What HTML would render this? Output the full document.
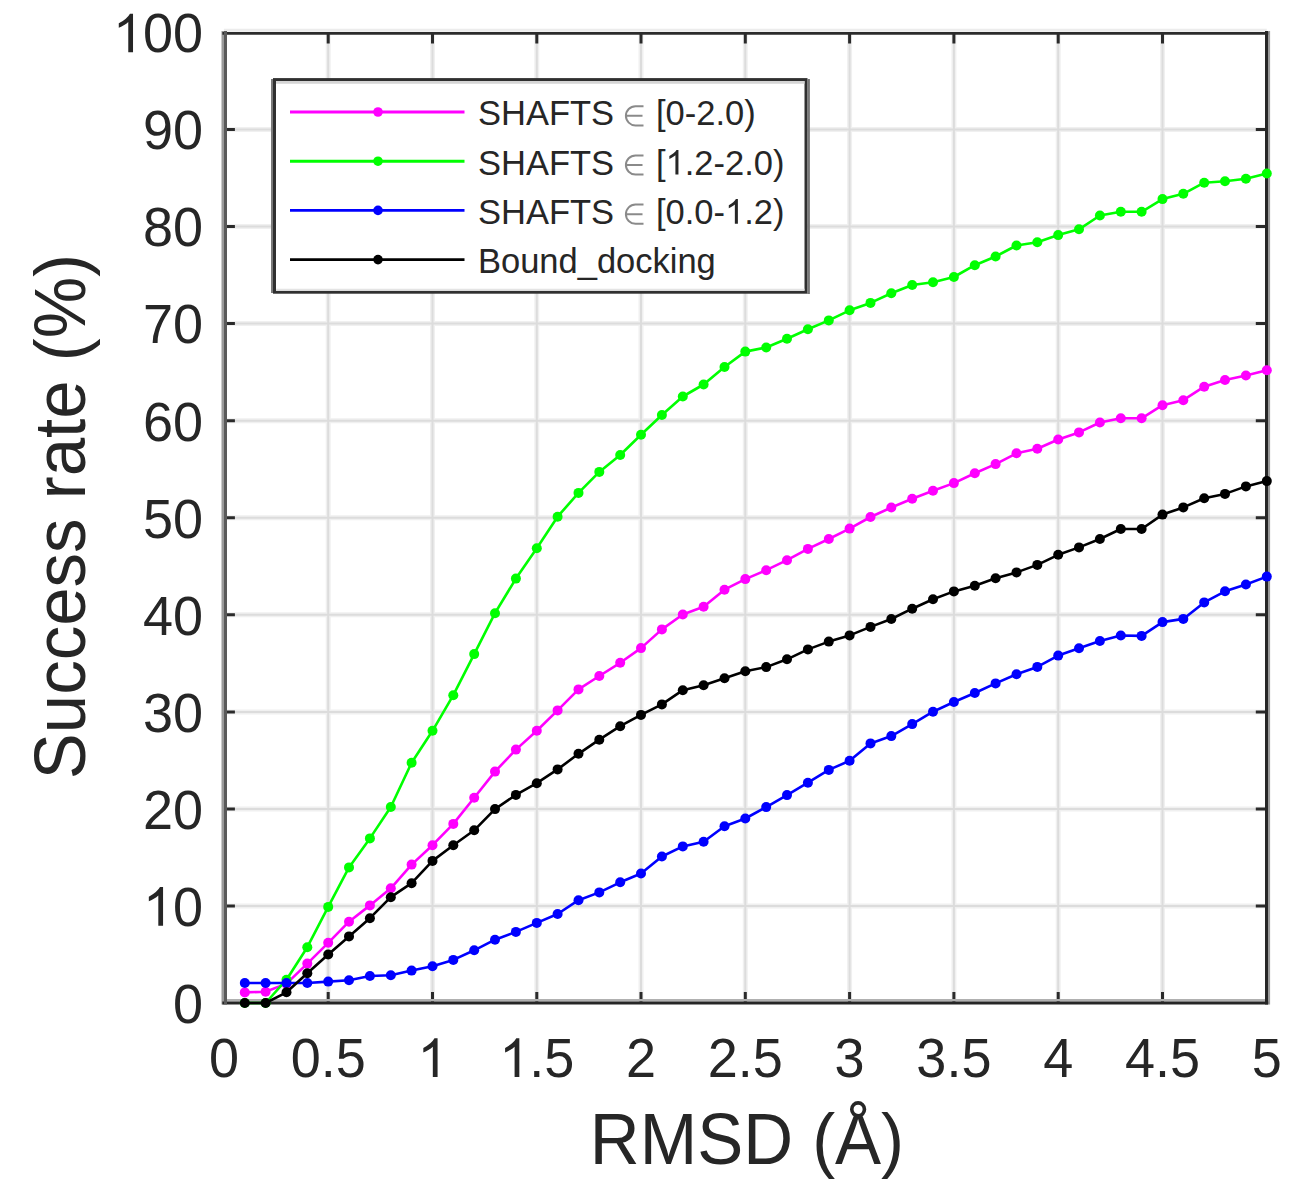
<!DOCTYPE html><html><head><meta charset="utf-8"><style>html,body{margin:0;padding:0;background:#fff;width:1306px;height:1201px;overflow:hidden}svg{display:block}text{font-family:"Liberation Sans",sans-serif;fill:#262626;font-kerning:none}</style></head><body>
<svg width="1306" height="1201" viewBox="0 0 1306 1201">
<rect x="0" y="0" width="1306" height="1201" fill="#fff"/>
<path d="M328.2 32.5V1003.0M432.5 32.5V1003.0M536.8 32.5V1003.0M641.0 32.5V1003.0M745.3 32.5V1003.0M849.6 32.5V1003.0M953.9 32.5V1003.0M1058.2 32.5V1003.0M1162.5 32.5V1003.0M223.9 906.0H1266.8M223.9 808.9H1266.8M223.9 711.9H1266.8M223.9 614.8H1266.8M223.9 517.8H1266.8M223.9 420.7H1266.8M223.9 323.6H1266.8M223.9 226.6H1266.8M223.9 129.5H1266.8" stroke="#f0f0f0" stroke-width="5" fill="none"/>
<path d="M328.2 32.5V1003.0M432.5 32.5V1003.0M536.8 32.5V1003.0M641.0 32.5V1003.0M745.3 32.5V1003.0M849.6 32.5V1003.0M953.9 32.5V1003.0M1058.2 32.5V1003.0M1162.5 32.5V1003.0M223.9 906.0H1266.8M223.9 808.9H1266.8M223.9 711.9H1266.8M223.9 614.8H1266.8M223.9 517.8H1266.8M223.9 420.7H1266.8M223.9 323.6H1266.8M223.9 226.6H1266.8M223.9 129.5H1266.8" stroke="#dcdcdc" stroke-width="2" fill="none"/>
<path d="M328.2 1003.0v-11M328.2 32.5v11M432.5 1003.0v-11M432.5 32.5v11M536.8 1003.0v-11M536.8 32.5v11M641.0 1003.0v-11M641.0 32.5v11M745.3 1003.0v-11M745.3 32.5v11M849.6 1003.0v-11M849.6 32.5v11M953.9 1003.0v-11M953.9 32.5v11M1058.2 1003.0v-11M1058.2 32.5v11M1162.5 1003.0v-11M1162.5 32.5v11M223.9 906.0h11M1266.8 906.0h-11M223.9 808.9h11M1266.8 808.9h-11M223.9 711.9h11M1266.8 711.9h-11M223.9 614.8h11M1266.8 614.8h-11M223.9 517.8h11M1266.8 517.8h-11M223.9 420.7h11M1266.8 420.7h-11M223.9 323.6h11M1266.8 323.6h-11M223.9 226.6h11M1266.8 226.6h-11M223.9 129.5h11M1266.8 129.5h-11" stroke="#2a2a2a" stroke-width="3" fill="none"/>
<path d="M223.9 30.3H1266.8" stroke="#ececec" stroke-width="3"/>
<path d="M223.9 1000.3H1266.8" stroke="#b0b0b0" stroke-width="2.6"/>
<path d="M222.8 31.0V1004.5" stroke="#9a9a9a" stroke-width="2.6"/>
<path d="M1269 31.0V1004.5" stroke="#9a9a9a" stroke-width="2.2"/>
<path d="M222.4 33.4H1268.2" stroke="#2b2b2b" stroke-width="2.8"/>
<path d="M222.4 1003.1H1268.2" stroke="#262626" stroke-width="3"/>
<path d="M225.5 31.0V1004.5" stroke="#5a5a5a" stroke-width="3"/>
<path d="M1266.5 31.0V1004.5" stroke="#262626" stroke-width="3"/>
<polyline points="244.8,992.4 265.6,991.7 286.5,983.6 307.3,963.6 328.2,942.8 349.0,921.7 369.9,905.4 390.8,888.3 411.6,864.6 432.5,845.2 453.3,823.9 474.2,797.8 495.0,771.6 515.9,749.6 536.8,730.7 557.6,710.4 578.5,689.4 599.3,676.0 620.2,662.8 641.0,648.1 661.9,629.4 682.8,614.5 703.6,606.7 724.5,589.7 745.3,579.1 766.2,570.2 787.0,560.2 807.9,548.9 828.8,539.0 849.6,528.6 870.5,517.0 891.3,507.5 912.2,498.8 933.0,490.8 953.9,483.1 974.8,473.3 995.6,464.1 1016.5,453.3 1037.3,448.7 1058.2,439.5 1079.0,432.4 1099.9,422.5 1120.8,418.3 1141.6,418.3 1162.5,405.2 1183.3,400.2 1204.2,386.7 1225.0,380.0 1245.9,375.5 1266.8,370.2" fill="none" stroke="#ff00ff" stroke-width="2.6" stroke-linejoin="round"/>
<g fill="#ff00ff"><circle cx="244.8" cy="992.4" r="5.0"/><circle cx="265.6" cy="991.7" r="5.0"/><circle cx="286.5" cy="983.6" r="5.0"/><circle cx="307.3" cy="963.6" r="5.0"/><circle cx="328.2" cy="942.8" r="5.0"/><circle cx="349.0" cy="921.7" r="5.0"/><circle cx="369.9" cy="905.4" r="5.0"/><circle cx="390.8" cy="888.3" r="5.0"/><circle cx="411.6" cy="864.6" r="5.0"/><circle cx="432.5" cy="845.2" r="5.0"/><circle cx="453.3" cy="823.9" r="5.0"/><circle cx="474.2" cy="797.8" r="5.0"/><circle cx="495.0" cy="771.6" r="5.0"/><circle cx="515.9" cy="749.6" r="5.0"/><circle cx="536.8" cy="730.7" r="5.0"/><circle cx="557.6" cy="710.4" r="5.0"/><circle cx="578.5" cy="689.4" r="5.0"/><circle cx="599.3" cy="676.0" r="5.0"/><circle cx="620.2" cy="662.8" r="5.0"/><circle cx="641.0" cy="648.1" r="5.0"/><circle cx="661.9" cy="629.4" r="5.0"/><circle cx="682.8" cy="614.5" r="5.0"/><circle cx="703.6" cy="606.7" r="5.0"/><circle cx="724.5" cy="589.7" r="5.0"/><circle cx="745.3" cy="579.1" r="5.0"/><circle cx="766.2" cy="570.2" r="5.0"/><circle cx="787.0" cy="560.2" r="5.0"/><circle cx="807.9" cy="548.9" r="5.0"/><circle cx="828.8" cy="539.0" r="5.0"/><circle cx="849.6" cy="528.6" r="5.0"/><circle cx="870.5" cy="517.0" r="5.0"/><circle cx="891.3" cy="507.5" r="5.0"/><circle cx="912.2" cy="498.8" r="5.0"/><circle cx="933.0" cy="490.8" r="5.0"/><circle cx="953.9" cy="483.1" r="5.0"/><circle cx="974.8" cy="473.3" r="5.0"/><circle cx="995.6" cy="464.1" r="5.0"/><circle cx="1016.5" cy="453.3" r="5.0"/><circle cx="1037.3" cy="448.7" r="5.0"/><circle cx="1058.2" cy="439.5" r="5.0"/><circle cx="1079.0" cy="432.4" r="5.0"/><circle cx="1099.9" cy="422.5" r="5.0"/><circle cx="1120.8" cy="418.3" r="5.0"/><circle cx="1141.6" cy="418.3" r="5.0"/><circle cx="1162.5" cy="405.2" r="5.0"/><circle cx="1183.3" cy="400.2" r="5.0"/><circle cx="1204.2" cy="386.7" r="5.0"/><circle cx="1225.0" cy="380.0" r="5.0"/><circle cx="1245.9" cy="375.5" r="5.0"/><circle cx="1266.8" cy="370.2" r="5.0"/></g>
<polyline points="244.8,1003.0 265.6,1003.0 286.5,979.7 307.3,947.2 328.2,906.9 349.0,867.4 369.9,838.4 390.8,807.0 411.6,762.7 432.5,730.8 453.3,695.2 474.2,654.1 495.0,613.2 515.9,578.6 536.8,548.3 557.6,516.7 578.5,492.9 599.3,471.9 620.2,455.0 641.0,434.8 661.9,415.0 682.8,396.5 703.6,384.5 724.5,367.0 745.3,351.6 766.2,347.5 787.0,338.8 807.9,329.2 828.8,320.4 849.6,310.3 870.5,302.9 891.3,293.3 912.2,285.0 933.0,282.3 953.9,277.0 974.8,265.2 995.6,256.5 1016.5,245.5 1037.3,242.3 1058.2,235.1 1079.0,229.3 1099.9,215.5 1120.8,211.8 1141.6,211.8 1162.5,199.1 1183.3,193.8 1204.2,182.7 1225.0,181.3 1245.9,178.7 1266.8,173.5" fill="none" stroke="#00ff00" stroke-width="2.6" stroke-linejoin="round"/>
<g fill="#00ff00"><circle cx="244.8" cy="1003.0" r="5.0"/><circle cx="265.6" cy="1003.0" r="5.0"/><circle cx="286.5" cy="979.7" r="5.0"/><circle cx="307.3" cy="947.2" r="5.0"/><circle cx="328.2" cy="906.9" r="5.0"/><circle cx="349.0" cy="867.4" r="5.0"/><circle cx="369.9" cy="838.4" r="5.0"/><circle cx="390.8" cy="807.0" r="5.0"/><circle cx="411.6" cy="762.7" r="5.0"/><circle cx="432.5" cy="730.8" r="5.0"/><circle cx="453.3" cy="695.2" r="5.0"/><circle cx="474.2" cy="654.1" r="5.0"/><circle cx="495.0" cy="613.2" r="5.0"/><circle cx="515.9" cy="578.6" r="5.0"/><circle cx="536.8" cy="548.3" r="5.0"/><circle cx="557.6" cy="516.7" r="5.0"/><circle cx="578.5" cy="492.9" r="5.0"/><circle cx="599.3" cy="471.9" r="5.0"/><circle cx="620.2" cy="455.0" r="5.0"/><circle cx="641.0" cy="434.8" r="5.0"/><circle cx="661.9" cy="415.0" r="5.0"/><circle cx="682.8" cy="396.5" r="5.0"/><circle cx="703.6" cy="384.5" r="5.0"/><circle cx="724.5" cy="367.0" r="5.0"/><circle cx="745.3" cy="351.6" r="5.0"/><circle cx="766.2" cy="347.5" r="5.0"/><circle cx="787.0" cy="338.8" r="5.0"/><circle cx="807.9" cy="329.2" r="5.0"/><circle cx="828.8" cy="320.4" r="5.0"/><circle cx="849.6" cy="310.3" r="5.0"/><circle cx="870.5" cy="302.9" r="5.0"/><circle cx="891.3" cy="293.3" r="5.0"/><circle cx="912.2" cy="285.0" r="5.0"/><circle cx="933.0" cy="282.3" r="5.0"/><circle cx="953.9" cy="277.0" r="5.0"/><circle cx="974.8" cy="265.2" r="5.0"/><circle cx="995.6" cy="256.5" r="5.0"/><circle cx="1016.5" cy="245.5" r="5.0"/><circle cx="1037.3" cy="242.3" r="5.0"/><circle cx="1058.2" cy="235.1" r="5.0"/><circle cx="1079.0" cy="229.3" r="5.0"/><circle cx="1099.9" cy="215.5" r="5.0"/><circle cx="1120.8" cy="211.8" r="5.0"/><circle cx="1141.6" cy="211.8" r="5.0"/><circle cx="1162.5" cy="199.1" r="5.0"/><circle cx="1183.3" cy="193.8" r="5.0"/><circle cx="1204.2" cy="182.7" r="5.0"/><circle cx="1225.0" cy="181.3" r="5.0"/><circle cx="1245.9" cy="178.7" r="5.0"/><circle cx="1266.8" cy="173.5" r="5.0"/></g>
<polyline points="244.8,983.0 265.6,983.0 286.5,983.0 307.3,983.0 328.2,981.6 349.0,980.2 369.9,976.0 390.8,975.3 411.6,970.6 432.5,966.2 453.3,959.9 474.2,950.3 495.0,939.7 515.9,931.9 536.8,922.9 557.6,914.0 578.5,900.2 599.3,892.4 620.2,882.3 641.0,873.5 661.9,856.5 682.8,846.4 703.6,841.8 724.5,826.2 745.3,818.5 766.2,807.1 787.0,795.1 807.9,782.7 828.8,769.9 849.6,760.8 870.5,743.4 891.3,736.1 912.2,724.1 933.0,711.7 953.9,702.0 974.8,693.0 995.6,683.4 1016.5,674.2 1037.3,666.9 1058.2,655.6 1079.0,648.3 1099.9,641.0 1120.8,635.5 1141.6,635.9 1162.5,622.1 1183.3,618.9 1204.2,602.4 1225.0,591.3 1245.9,584.5 1266.8,576.6" fill="none" stroke="#0000ff" stroke-width="2.6" stroke-linejoin="round"/>
<g fill="#0000ff"><circle cx="244.8" cy="983.0" r="5.0"/><circle cx="265.6" cy="983.0" r="5.0"/><circle cx="286.5" cy="983.0" r="5.0"/><circle cx="307.3" cy="983.0" r="5.0"/><circle cx="328.2" cy="981.6" r="5.0"/><circle cx="349.0" cy="980.2" r="5.0"/><circle cx="369.9" cy="976.0" r="5.0"/><circle cx="390.8" cy="975.3" r="5.0"/><circle cx="411.6" cy="970.6" r="5.0"/><circle cx="432.5" cy="966.2" r="5.0"/><circle cx="453.3" cy="959.9" r="5.0"/><circle cx="474.2" cy="950.3" r="5.0"/><circle cx="495.0" cy="939.7" r="5.0"/><circle cx="515.9" cy="931.9" r="5.0"/><circle cx="536.8" cy="922.9" r="5.0"/><circle cx="557.6" cy="914.0" r="5.0"/><circle cx="578.5" cy="900.2" r="5.0"/><circle cx="599.3" cy="892.4" r="5.0"/><circle cx="620.2" cy="882.3" r="5.0"/><circle cx="641.0" cy="873.5" r="5.0"/><circle cx="661.9" cy="856.5" r="5.0"/><circle cx="682.8" cy="846.4" r="5.0"/><circle cx="703.6" cy="841.8" r="5.0"/><circle cx="724.5" cy="826.2" r="5.0"/><circle cx="745.3" cy="818.5" r="5.0"/><circle cx="766.2" cy="807.1" r="5.0"/><circle cx="787.0" cy="795.1" r="5.0"/><circle cx="807.9" cy="782.7" r="5.0"/><circle cx="828.8" cy="769.9" r="5.0"/><circle cx="849.6" cy="760.8" r="5.0"/><circle cx="870.5" cy="743.4" r="5.0"/><circle cx="891.3" cy="736.1" r="5.0"/><circle cx="912.2" cy="724.1" r="5.0"/><circle cx="933.0" cy="711.7" r="5.0"/><circle cx="953.9" cy="702.0" r="5.0"/><circle cx="974.8" cy="693.0" r="5.0"/><circle cx="995.6" cy="683.4" r="5.0"/><circle cx="1016.5" cy="674.2" r="5.0"/><circle cx="1037.3" cy="666.9" r="5.0"/><circle cx="1058.2" cy="655.6" r="5.0"/><circle cx="1079.0" cy="648.3" r="5.0"/><circle cx="1099.9" cy="641.0" r="5.0"/><circle cx="1120.8" cy="635.5" r="5.0"/><circle cx="1141.6" cy="635.9" r="5.0"/><circle cx="1162.5" cy="622.1" r="5.0"/><circle cx="1183.3" cy="618.9" r="5.0"/><circle cx="1204.2" cy="602.4" r="5.0"/><circle cx="1225.0" cy="591.3" r="5.0"/><circle cx="1245.9" cy="584.5" r="5.0"/><circle cx="1266.8" cy="576.6" r="5.0"/></g>
<polyline points="244.8,1003.0 265.6,1003.0 286.5,992.3 307.3,973.2 328.2,954.5 349.0,936.4 369.9,918.2 390.8,897.2 411.6,883.2 432.5,860.9 453.3,845.2 474.2,830.3 495.0,809.1 515.9,794.9 536.8,783.2 557.6,769.4 578.5,753.8 599.3,739.7 620.2,726.2 641.0,714.9 661.9,704.4 682.8,690.2 703.6,685.3 724.5,678.2 745.3,671.2 766.2,667.1 787.0,659.3 807.9,649.4 828.8,641.6 849.6,635.4 870.5,626.9 891.3,619.0 912.2,608.7 933.0,599.2 953.9,591.4 974.8,585.7 995.6,578.2 1016.5,572.4 1037.3,564.9 1058.2,554.8 1079.0,547.4 1099.9,539.0 1120.8,529.0 1141.6,529.0 1162.5,514.6 1183.3,507.4 1204.2,498.3 1225.0,493.9 1245.9,486.4 1266.8,481.1" fill="none" stroke="#000000" stroke-width="2.6" stroke-linejoin="round"/>
<g fill="#000000"><circle cx="244.8" cy="1003.0" r="5.0"/><circle cx="265.6" cy="1003.0" r="5.0"/><circle cx="286.5" cy="992.3" r="5.0"/><circle cx="307.3" cy="973.2" r="5.0"/><circle cx="328.2" cy="954.5" r="5.0"/><circle cx="349.0" cy="936.4" r="5.0"/><circle cx="369.9" cy="918.2" r="5.0"/><circle cx="390.8" cy="897.2" r="5.0"/><circle cx="411.6" cy="883.2" r="5.0"/><circle cx="432.5" cy="860.9" r="5.0"/><circle cx="453.3" cy="845.2" r="5.0"/><circle cx="474.2" cy="830.3" r="5.0"/><circle cx="495.0" cy="809.1" r="5.0"/><circle cx="515.9" cy="794.9" r="5.0"/><circle cx="536.8" cy="783.2" r="5.0"/><circle cx="557.6" cy="769.4" r="5.0"/><circle cx="578.5" cy="753.8" r="5.0"/><circle cx="599.3" cy="739.7" r="5.0"/><circle cx="620.2" cy="726.2" r="5.0"/><circle cx="641.0" cy="714.9" r="5.0"/><circle cx="661.9" cy="704.4" r="5.0"/><circle cx="682.8" cy="690.2" r="5.0"/><circle cx="703.6" cy="685.3" r="5.0"/><circle cx="724.5" cy="678.2" r="5.0"/><circle cx="745.3" cy="671.2" r="5.0"/><circle cx="766.2" cy="667.1" r="5.0"/><circle cx="787.0" cy="659.3" r="5.0"/><circle cx="807.9" cy="649.4" r="5.0"/><circle cx="828.8" cy="641.6" r="5.0"/><circle cx="849.6" cy="635.4" r="5.0"/><circle cx="870.5" cy="626.9" r="5.0"/><circle cx="891.3" cy="619.0" r="5.0"/><circle cx="912.2" cy="608.7" r="5.0"/><circle cx="933.0" cy="599.2" r="5.0"/><circle cx="953.9" cy="591.4" r="5.0"/><circle cx="974.8" cy="585.7" r="5.0"/><circle cx="995.6" cy="578.2" r="5.0"/><circle cx="1016.5" cy="572.4" r="5.0"/><circle cx="1037.3" cy="564.9" r="5.0"/><circle cx="1058.2" cy="554.8" r="5.0"/><circle cx="1079.0" cy="547.4" r="5.0"/><circle cx="1099.9" cy="539.0" r="5.0"/><circle cx="1120.8" cy="529.0" r="5.0"/><circle cx="1141.6" cy="529.0" r="5.0"/><circle cx="1162.5" cy="514.6" r="5.0"/><circle cx="1183.3" cy="507.4" r="5.0"/><circle cx="1204.2" cy="498.3" r="5.0"/><circle cx="1225.0" cy="493.9" r="5.0"/><circle cx="1245.9" cy="486.4" r="5.0"/><circle cx="1266.8" cy="481.1" r="5.0"/></g>
<g transform="translate(203.00,1022.80)"><text x="-30.03" y="0" font-size="54.00" transform="scale(1,1.040)">0</text></g>
<g transform="translate(203.00,925.75)"><path d="M763 0H583V1147Q518 1085 412.5 1023Q307 961 223 930V1104Q374 1175 487 1276Q600 1377 647 1466H763Z" transform="translate(-60.06,0) scale(0.02637,-0.02637)" fill="#262626"/><text x="-30.03" y="0" font-size="54.00" transform="scale(1,1.040)">0</text></g>
<g transform="translate(203.00,828.70)"><text x="-60.06" y="0" font-size="54.00" transform="scale(1,1.040)">20</text></g>
<g transform="translate(203.00,731.65)"><text x="-60.06" y="0" font-size="54.00" transform="scale(1,1.040)">30</text></g>
<g transform="translate(203.00,634.60)"><text x="-60.06" y="0" font-size="54.00" transform="scale(1,1.040)">40</text></g>
<g transform="translate(203.00,537.55)"><text x="-60.06" y="0" font-size="54.00" transform="scale(1,1.040)">50</text></g>
<g transform="translate(203.00,440.50)"><text x="-60.06" y="0" font-size="54.00" transform="scale(1,1.040)">60</text></g>
<g transform="translate(203.00,343.45)"><text x="-60.06" y="0" font-size="54.00" transform="scale(1,1.040)">70</text></g>
<g transform="translate(203.00,246.40)"><text x="-60.06" y="0" font-size="54.00" transform="scale(1,1.040)">80</text></g>
<g transform="translate(203.00,149.35)"><text x="-60.06" y="0" font-size="54.00" transform="scale(1,1.040)">90</text></g>
<g transform="translate(203.00,52.30)"><path d="M763 0H583V1147Q518 1085 412.5 1023Q307 961 223 930V1104Q374 1175 487 1276Q600 1377 647 1466H763Z" transform="translate(-90.10,0) scale(0.02637,-0.02637)" fill="#262626"/><text x="-60.06" y="0" font-size="54.00" transform="scale(1,1.040)">00</text></g>
<g transform="translate(223.90,1077.00)"><text x="-15.02" y="0" font-size="54.00" transform="scale(1,1.040)">0</text></g>
<g transform="translate(328.19,1077.00)"><text x="-37.53" y="0" font-size="54.00" transform="scale(1,1.040)">0.5</text></g>
<g transform="translate(432.47,1077.00)"><path d="M763 0H583V1147Q518 1085 412.5 1023Q307 961 223 930V1104Q374 1175 487 1276Q600 1377 647 1466H763Z" transform="translate(-15.02,0) scale(0.02637,-0.02637)" fill="#262626"/></g>
<g transform="translate(536.75,1077.00)"><path d="M763 0H583V1147Q518 1085 412.5 1023Q307 961 223 930V1104Q374 1175 487 1276Q600 1377 647 1466H763Z" transform="translate(-37.53,0) scale(0.02637,-0.02637)" fill="#262626"/><text x="-7.50" y="0" font-size="54.00" transform="scale(1,1.040)">.5</text></g>
<g transform="translate(641.04,1077.00)"><text x="-15.02" y="0" font-size="54.00" transform="scale(1,1.040)">2</text></g>
<g transform="translate(745.32,1077.00)"><text x="-37.53" y="0" font-size="54.00" transform="scale(1,1.040)">2.5</text></g>
<g transform="translate(849.61,1077.00)"><text x="-15.02" y="0" font-size="54.00" transform="scale(1,1.040)">3</text></g>
<g transform="translate(953.89,1077.00)"><text x="-37.53" y="0" font-size="54.00" transform="scale(1,1.040)">3.5</text></g>
<g transform="translate(1058.18,1077.00)"><text x="-15.02" y="0" font-size="54.00" transform="scale(1,1.040)">4</text></g>
<g transform="translate(1162.46,1077.00)"><text x="-37.53" y="0" font-size="54.00" transform="scale(1,1.040)">4.5</text></g>
<g transform="translate(1266.75,1077.00)"><text x="-15.02" y="0" font-size="54.00" transform="scale(1,1.040)">5</text></g>
<g transform="translate(747.00,1164.40)"><text x="-157.15" y="0" font-size="69.00" transform="scale(1,1.040)">RMSD&#160;(Å)</text></g>
<g transform="translate(85.00,516.50) rotate(-90)"><text x="-262.66" y="0" font-size="69.00" transform="scale(1,1.040)">Success&#160;rate&#160;(%)</text></g>
<rect x="274.5" y="79.6" width="531.5" height="212.6" fill="#fff" stroke="#303030" stroke-width="3"/>
<path d="M272 79V293" stroke="#7a7a7a" stroke-width="2"/>
<path d="M808.6 79V294" stroke="#777" stroke-width="2.6"/>
<path d="M276 82.4H804.5" stroke="#d5d5d5" stroke-width="2.6"/>
<path d="M276 289.7H804.5" stroke="#e4e4e4" stroke-width="2"/>
<path d="M290 112.0H464.5" stroke="#ff00ff" stroke-width="2.9"/>
<circle cx="378" cy="112.0" r="4.8" fill="#ff00ff"/>
<g transform="translate(478.00,125.40)"><text x="0.00" y="0" font-size="34.50" transform="scale(1,1.040)">SHAFTS</text></g>
<path d="M643.5 106.2h-8a9.6 9.6 0 0 0 0 19.2h8M625.5 115.8h17" fill="none" stroke="#8a8a8a" stroke-width="2"/>
<g transform="translate(656.00,125.40)"><text x="0.00" y="0" font-size="34.50" transform="scale(1,1.040)">[0-2.0)</text></g>
<path d="M290 161.2H464.5" stroke="#00ff00" stroke-width="2.9"/>
<circle cx="378" cy="161.2" r="4.8" fill="#00ff00"/>
<g transform="translate(478.00,174.60)"><text x="0.00" y="0" font-size="34.50" transform="scale(1,1.040)">SHAFTS</text></g>
<path d="M643.5 155.4h-8a9.6 9.6 0 0 0 0 19.2h8M625.5 165.0h17" fill="none" stroke="#8a8a8a" stroke-width="2"/>
<g transform="translate(656.00,174.60)"><text x="0.00" y="0" font-size="34.50" transform="scale(1,1.040)">[</text><path d="M763 0H583V1147Q518 1085 412.5 1023Q307 961 223 930V1104Q374 1175 487 1276Q600 1377 647 1466H763Z" transform="translate(9.59,0) scale(0.01685,-0.01685)" fill="#262626"/><text x="28.77" y="0" font-size="34.50" transform="scale(1,1.040)">.2-2.0)</text></g>
<path d="M290 210.4H464.5" stroke="#0000ff" stroke-width="2.9"/>
<circle cx="378" cy="210.4" r="4.8" fill="#0000ff"/>
<g transform="translate(478.00,223.80)"><text x="0.00" y="0" font-size="34.50" transform="scale(1,1.040)">SHAFTS</text></g>
<path d="M643.5 204.6h-8a9.6 9.6 0 0 0 0 19.2h8M625.5 214.2h17" fill="none" stroke="#8a8a8a" stroke-width="2"/>
<g transform="translate(656.00,223.80)"><text x="0.00" y="0" font-size="34.50" transform="scale(1,1.040)">[0.0-</text><path d="M763 0H583V1147Q518 1085 412.5 1023Q307 961 223 930V1104Q374 1175 487 1276Q600 1377 647 1466H763Z" transform="translate(69.03,0) scale(0.01685,-0.01685)" fill="#262626"/><text x="88.22" y="0" font-size="34.50" transform="scale(1,1.040)">.2)</text></g>
<path d="M290 259.6H464.5" stroke="#000000" stroke-width="2.9"/>
<circle cx="378" cy="259.6" r="4.8" fill="#000000"/>
<g transform="translate(478.00,273.00)"><text x="0.00" y="0" font-size="34.50" transform="scale(1,1.040)">Bound_docking</text></g>
</svg></body></html>
